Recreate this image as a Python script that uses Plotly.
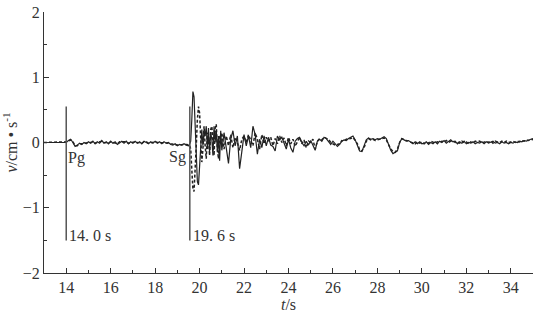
import plotly.graph_objects as go

# ---- time samples (s) ----
t_pre = [13.0, 13.1, 13.2, 13.3, 13.4, 13.5, 13.6, 13.7, 13.8, 13.9,
         14.0, 14.1, 14.2, 14.3, 14.4, 14.5, 14.6, 14.7, 14.8, 14.9,
         15.0, 15.1, 15.2, 15.3, 15.4, 15.5, 15.6, 15.7, 15.8, 15.9,
         16.0, 16.1, 16.2, 16.3, 16.4, 16.5, 16.6, 16.7, 16.8, 16.9,
         17.0, 17.1, 17.2, 17.3, 17.4, 17.5, 17.6, 17.7, 17.8, 17.9,
         18.0, 18.1, 18.2, 18.3, 18.4, 18.5, 18.6, 18.7, 18.8, 18.9,
         19.0, 19.1, 19.2, 19.3, 19.4, 19.5]
t_sg = [19.55, 19.60, 19.65, 19.70, 19.75, 19.80, 19.85, 19.90, 19.95, 20.00,
        20.05, 20.10, 20.15, 20.20, 20.25, 20.30, 20.35, 20.40, 20.45, 20.50,
        20.55, 20.60, 20.65, 20.70, 20.75, 20.80, 20.85, 20.90, 20.95, 21.00]
t_coda = [21.1, 21.2, 21.3, 21.4, 21.5, 21.6, 21.7, 21.8, 21.9, 22.0,
          22.1, 22.2, 22.3, 22.4, 22.5, 22.6, 22.7, 22.8, 22.9, 23.0,
          23.1, 23.2, 23.3, 23.4, 23.5, 23.6, 23.7, 23.8, 23.9, 24.0,
          24.1, 24.2, 24.3, 24.4, 24.5, 24.6, 24.7, 24.8, 24.9, 25.0,
          25.1, 25.2, 25.3, 25.4, 25.5, 25.6, 25.7, 25.8, 25.9, 26.0,
          26.1, 26.2, 26.3, 26.4, 26.5, 26.6, 26.7, 26.8, 26.9, 27.0,
          27.1, 27.2, 27.3, 27.4, 27.5, 27.6, 27.7, 27.8, 27.9, 28.0,
          28.1, 28.2, 28.3, 28.4, 28.5, 28.6, 28.7, 28.8, 28.9, 29.0,
          29.1, 29.2, 29.3, 29.4, 29.5, 29.6, 29.7, 29.8, 29.9, 30.0,
          30.1, 30.2, 30.3, 30.4, 30.5, 30.6, 30.7, 30.8, 30.9, 31.0,
          31.1, 31.2, 31.3, 31.4, 31.5, 31.6, 31.7, 31.8, 31.9, 32.0,
          32.1, 32.2, 32.3, 32.4, 32.5, 32.6, 32.7, 32.8, 32.9, 33.0,
          33.1, 33.2, 33.3, 33.4, 33.5, 33.6, 33.7, 33.8, 33.9, 34.0,
          34.1, 34.2, 34.3, 34.4, 34.5, 34.6, 34.7, 34.8, 34.9, 35.0]

# ---- velocity (cm/s), solid trace ----
v_solid_pre = [0.00, 0.00, 0.01, 0.00, 0.00, 0.01, 0.00, 0.00, 0.01, 0.00,
               0.00, 0.03, 0.05, 0.00, -0.06, -0.04, -0.01, -0.03, 0.00, -0.02,
               0.01, -0.01, 0.02, -0.02, 0.01, -0.01, 0.03, -0.01, 0.01, -0.02,
               0.02, -0.01, 0.01, -0.03, 0.00, 0.02, -0.01, 0.02, -0.02, 0.01,
               -0.01, 0.02, -0.01, 0.01, -0.02, 0.02, 0.00, -0.02, 0.01, -0.01,
               0.02, -0.01, 0.01, -0.02, 0.01, -0.01, 0.00, -0.03, -0.04, -0.02,
               -0.05, -0.03, -0.04, -0.02, -0.04, -0.05]
v_solid_sg = [-0.03, 0.02, 0.35, 0.78, 0.70, 0.20, -0.30, -0.60, -0.65, -0.35,
              0.05, 0.20, -0.05, 0.18, 0.10, 0.25, -0.10, 0.22, -0.15, 0.15,
              0.05, -0.20, 0.25, 0.00, 0.20, -0.15, 0.10, -0.28, 0.18, -0.12]
v_solid_coda = [0.15, -0.10, -0.32, 0.05, 0.18, -0.05, 0.10, -0.40, -0.15, 0.12,
                -0.05, 0.10, -0.08, 0.25, 0.12, -0.18, 0.05, -0.08, 0.10, -0.05,
                0.08, -0.04, -0.06, -0.13, 0.10, 0.04, 0.08, -0.02, -0.10, 0.05,
                -0.08, -0.15, 0.02, 0.06, 0.08, 0.00, -0.05, 0.02, -0.04, 0.03,
                -0.06, -0.12, 0.02, 0.05, 0.02, 0.08, 0.06, 0.02, -0.03, 0.02,
                -0.02, -0.06, -0.03, 0.02, 0.04, 0.03, 0.06, 0.08, 0.10, 0.04,
                -0.05, -0.13, -0.14, -0.06, 0.04, 0.07, 0.05, 0.06, 0.04, 0.06,
                0.05, 0.07, 0.09, 0.06, -0.03, -0.12, -0.17, -0.15, -0.13, 0.00,
                0.06, 0.04, 0.02, 0.03, 0.00, -0.02, 0.01, -0.02, 0.01, -0.02,
                -0.01, 0.01, -0.03, 0.00, -0.02, 0.01, -0.02, 0.02, 0.00, 0.03,
                -0.01, 0.02, 0.04, 0.01, 0.02, -0.02, 0.01, -0.01, 0.02, -0.02,
                0.00, -0.01, 0.01, -0.02, 0.00, -0.01, 0.01, -0.02, 0.01, -0.01,
                0.00, 0.02, -0.01, 0.00, -0.02, 0.01, -0.01, 0.00, -0.02, 0.00,
                -0.01, 0.01, 0.00, 0.02, 0.01, 0.03, 0.02, 0.04, 0.05, 0.06]

# ---- velocity (cm/s), dashed trace ----
v_dash_pre = [0.00, 0.00, 0.00, 0.00, 0.00, 0.00, 0.00, 0.00, 0.00, 0.00,
              0.01, 0.02, 0.04, 0.01, -0.05, -0.05, -0.02, -0.02, -0.01, -0.01,
              0.00, 0.00, 0.01, -0.01, 0.00, 0.00, 0.02, 0.00, 0.00, -0.01,
              0.01, 0.00, 0.00, -0.02, 0.01, 0.01, 0.00, 0.01, -0.01, 0.00,
              0.00, 0.01, 0.00, 0.00, -0.01, 0.01, 0.01, -0.01, 0.00, 0.00,
              0.01, 0.00, 0.00, -0.01, 0.00, 0.00, -0.01, -0.02, -0.03, -0.03,
              -0.04, -0.04, -0.03, -0.03, -0.03, -0.04]
v_dash_sg = [-0.04, -0.10, -0.40, -0.72, -0.75, -0.45, -0.05, 0.35, 0.55, 0.45,
             0.05, -0.30, -0.10, 0.25, -0.05, -0.25, 0.15, 0.05, -0.20, 0.20,
             0.25, 0.05, -0.20, 0.22, 0.28, -0.10, -0.25, 0.10, 0.00, 0.15]
v_dash_coda = [-0.10, 0.10, -0.05, 0.12, -0.08, 0.08, 0.00, -0.12, 0.05, 0.10,
               0.00, 0.12, 0.02, -0.05, 0.15, 0.05, -0.10, 0.12, -0.02, 0.08,
               0.02, 0.08, -0.05, 0.06, -0.02, 0.10, 0.00, 0.07, -0.05, 0.08,
               -0.02, 0.05, -0.06, 0.02, 0.08, -0.02, 0.04, -0.08, 0.02, 0.00,
               0.05, -0.10, 0.02, 0.06, 0.04, 0.08, 0.06, 0.05, 0.00, -0.02,
               -0.04, -0.03, -0.02, 0.03, 0.02, 0.05, 0.05, 0.06, 0.08, 0.03,
               -0.02, -0.11, -0.13, -0.08, 0.02, 0.06, 0.04, 0.05, 0.03, 0.04,
               0.05, 0.06, 0.07, 0.04, -0.03, -0.10, -0.14, -0.15, -0.10, 0.00,
               0.06, 0.04, 0.03, 0.02, 0.01, 0.00, -0.02, 0.01, -0.01, 0.01,
               -0.02, 0.00, -0.01, 0.02, 0.00, -0.01, 0.01, 0.00, 0.02, 0.01,
               0.03, 0.00, 0.02, 0.03, 0.00, 0.01, -0.01, 0.02, 0.00, 0.01,
               -0.02, 0.01, -0.01, 0.02, 0.01, 0.02, -0.01, 0.01, 0.02, 0.00,
               0.02, -0.01, 0.02, 0.01, 0.00, 0.02, 0.00, 0.02, 0.00, 0.01,
               0.02, 0.00, 0.02, 0.01, 0.03, 0.02, 0.04, 0.03, 0.05, 0.04]

# ---- phase markers ----
phase_names = ["Pg", "Sg"]
phase_times = [14.0, 19.56]
phase_labels = ["14. 0 s", "19. 6 s"]
marker_top = 0.55
marker_bottom = -1.5

x_ticks = [14, 16, 18, 20, 22, 24, 26, 28, 30, 32, 34]
y_ticks = [-2, -1, 0, 1, 2]

t_all = t_pre + t_sg + t_coda
v_solid = v_solid_pre + v_solid_sg + v_solid_coda
v_dash = v_dash_pre + v_dash_sg + v_dash_coda

SERIF = "Liberation Serif, Times New Roman, serif"
INK = "#333"
fig = go.Figure()

fig.add_trace(go.Scatter(x=t_all, y=v_dash, mode="lines",
                         line=dict(color="#222", width=1.5, dash="3px,2px"),
                         showlegend=False, hoverinfo="skip"))
fig.add_trace(go.Scatter(x=t_all, y=v_solid, mode="lines",
                         line=dict(color="#222", width=1.2),
                         showlegend=False, hoverinfo="skip"))

for name, tp, lab in zip(phase_names, phase_times, phase_labels):
    fig.add_trace(go.Scatter(x=[tp, tp], y=[marker_top, marker_bottom], mode="lines",
                             line=dict(color="#555", width=1.5),
                             showlegend=False, hoverinfo="skip"))
    fig.add_annotation(x=tp, y=-1.42, text=lab, showarrow=False,
                       xanchor="left", xshift=1, yanchor="middle",
                       font=dict(family=SERIF, size=16, color=INK))

fig.add_annotation(x=phase_times[0], y=-0.24, text=phase_names[0], showarrow=False,
                   xanchor="left", xshift=0, yanchor="middle",
                   font=dict(family=SERIF, size=16, color=INK))
fig.add_annotation(x=phase_times[1], y=-0.22, text=phase_names[1], showarrow=False,
                   xanchor="right", xshift=-2, yanchor="middle",
                   font=dict(family=SERIF, size=16, color=INK))

fig.update_layout(
    width=555, height=317,
    margin=dict(l=44, r=22, t=12, b=44),
    paper_bgcolor="white", plot_bgcolor="white",
    font=dict(family=SERIF, size=16, color=INK),
    xaxis=dict(range=[13, 35], tickvals=x_ticks, ticks="inside", ticklen=5,
               tickcolor=INK, showline=True, linecolor=INK, linewidth=1,
               showgrid=False, zeroline=False, automargin=False,
               minor=dict(dtick=1, tick0=13, ticks="inside", ticklen=3, tickcolor=INK),
               tickfont=dict(family=SERIF, size=16, color=INK),
               title=dict(text="<i>t</i>/s", standoff=2,
                          font=dict(family=SERIF, size=16, color=INK))),
    yaxis=dict(range=[-2, 2], tickvals=y_ticks, ticks="inside", ticklen=5,
               tickcolor=INK, showline=True, linecolor=INK, linewidth=1,
               showgrid=False, zeroline=False, automargin=False,
               minor=dict(dtick=0.5, tick0=0, ticks="inside", ticklen=3, tickcolor=INK),
               tickfont=dict(family=SERIF, size=16, color=INK),
               title=dict(text="<i>v</i>/cm • s<sup>-1</sup>", standoff=4,
                          font=dict(family=SERIF, size=16, color=INK))),
)

fig.write_html("out.html")
